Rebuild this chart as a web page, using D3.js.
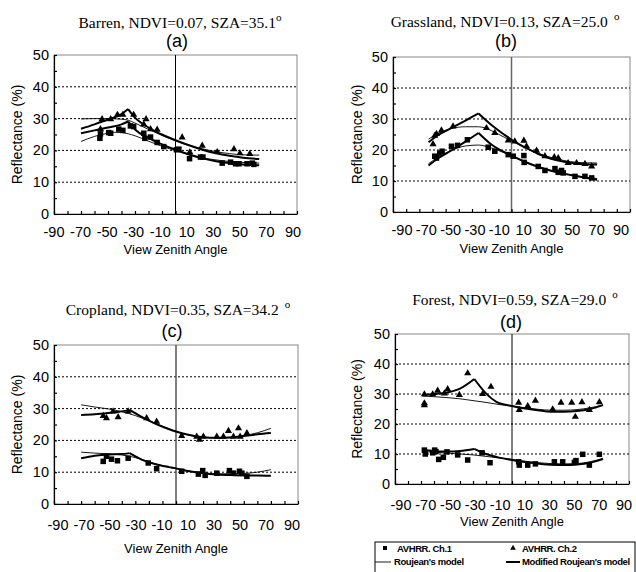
<!DOCTYPE html>
<html>
<head>
<meta charset="utf-8">
<script src="https://cdn.jsdelivr.net/npm/d3@7"></script>
<style>
  body { margin: 0; background: #fff; }
  svg { display: block; }
  .sans { font-family: Arial, "Liberation Sans", sans-serif; }
  .serif { font-family: "Times New Roman", "Liberation Serif", serif; }
</style>
</head>
<body>
<div id="chart"></div>
<script>
// x ticks (view zenith angle) and y ticks (reflectance %)
var xTickLabels = [-90, -70, -50, -30, -10, 10, 30, 50, 70, 90];
var yTickLabels = [0, 10, 20, 30, 40, 50];

// (a) Barren
var barrenCh1 = [[-55.6,25.2],[-56,23.8],[-49.5,25.6],[-48,25.4],[-42,26.7],[-39,26.3],[-33.4,27.7],[-31,27.5],[-23.5,25.4],[-22.7,23.8],[-18.5,24.2],[-13.6,22.5],[-8.7,21.2],[0.7,20.2],[2.5,20.4],[10.4,17.4],[18.5,17.9],[20.3,17.9],[34.6,16],[40.8,16.3],[44.5,15.8],[47,15.8],[53,15.8],[56.9,16],[58,15.6]];
var barrenCh2 = [[-55.6,26.7],[-54.4,29.8],[-48,29.8],[-43,31.2],[-39,31.2],[-31,31.2],[-23.5,28.2],[-21.8,29.8],[-18.5,26.7],[-13.6,26.5],[4.9,24.1],[10.6,19.4],[19.8,21.5],[30.9,19.5],[43.3,20.4],[47.7,19.1],[55,18.9]];
var barrenRouj1 = [[-70,22.8],[-60,24.4],[-50,25.4],[-45,25.7],[-40,25.6],[-30,24.6],[-20,22.9],[-10,21.3],[0,19.9],[10,18.7],[20,17.7],[30,17],[40,16.5],[50,16.2],[62,16]];
var barrenRouj2 = [[-70,29.9],[-60,30],[-50,30],[-40,29.8],[-35,29.5],[-30,28.6],[-20,26.6],[-10,24.7],[0,23],[10,21.6],[20,20.5],[30,19.6],[40,19],[50,18.6],[62,18.5]];
var barrenMod1 = [[-70,25.4],[-60,26.3],[-50,27.2],[-40,28.2],[-35.1,29.1],[-30,26.6],[-20,23.9],[-10,21.9],[0,20.2],[10,18.7],[20,17.5],[30,16.6],[40,16],[50,15.6],[62,15.3]];
var barrenMod2 = [[-70,26.8],[-60,28.2],[-50,29.7],[-40,31.4],[-35.1,33],[-30,30.3],[-20,27.2],[-10,25],[0,23.2],[10,21.6],[20,20.2],[30,19.1],[40,18.3],[50,17.7],[62,17.3]];

// (b) Grassland
var grassCh1 = [[-58.3,18],[-57,17.4],[-54.5,19],[-52.7,19.6],[-45.6,21.2],[-41,21.5],[-33.5,23.3],[-17.7,20.9],[-12.7,19.6],[-2.5,18.5],[1.3,18],[9.4,18.2],[9.6,16],[20.3,14.7],[25.4,13.4],[33,14],[35.5,12.8],[38,13.4],[39.3,12.6],[48.2,11.5],[55.8,11.5],[60.9,11]];
var grassCh2 = [[-59.6,21.9],[-58.3,24.6],[-57,25.2],[-53.2,26.3],[-44.4,27.6],[-19,27.1],[-12.7,25.5],[-2.5,23.1],[2.5,22.8],[9.4,23],[11.4,21.2],[19,19.8],[25.4,18],[32.5,17.7],[35.5,17.4],[43,15.8],[49.4,15.8],[55.8,15.5],[60.9,14.7]];
var grassRouj1 = [[-63,15.6],[-55,17.8],[-45,20],[-35,21.3],[-25,21.6],[-15,20.6],[-5,19],[0,18],[10,16.2],[20,14.7],[30,13.4],[40,12.4],[50,11.6],[65,10.8]];
var grassRouj2 = [[-63,23.5],[-55,25.5],[-45,27],[-35,27.5],[-25,27.5],[-15,26.2],[-5,24],[0,23],[10,20.8],[20,19],[30,17.6],[40,16.6],[50,16],[65,15.8]];
var grassMod1 = [[-63,15],[-55,17.5],[-45,20],[-35,22.7],[-25,25.5],[-15,21.7],[-5,19.2],[0,18.2],[10,16.2],[20,14.6],[30,13.3],[40,12.3],[50,11.5],[65,10.4]];
var grassMod2 = [[-63,22.5],[-55,25],[-45,27.2],[-35,29.5],[-25,31.8],[-15,28],[-5,24.8],[0,23.3],[10,20.9],[20,18.8],[30,17.2],[40,16.2],[50,15.6],[65,15.3]];

// (c) Cropland
var cropCh1 = [[-53.7,13.4],[-51.3,15],[-47.6,14.1],[-43.2,13.6],[-35.3,14.4],[-20.5,12.9],[-14.3,11.1],[4.2,10.3],[16.5,9.4],[19.7,10.5],[21.5,9],[30.1,9.7],[39.4,10.5],[42.4,9.7],[46.8,10.3],[48.6,9.7],[52.3,8.7]];
var cropCh2 = [[-53.7,27.7],[-51.3,27],[-46.4,29.1],[-42.7,27.3],[-35.3,29.1],[-21.7,27],[-14.3,25.9],[4.2,21.4],[15.3,21.2],[17.3,20.2],[20.2,21.2],[30.1,21.2],[35,21.2],[38.7,23],[42.4,21.2],[46.1,23.8],[47.3,21.2],[52.3,22.3]];
var cropRouj1 = [[-70,16.3],[-60,16],[-50,15.8],[-40,15.4],[-30,14.6],[-20,13.3],[-10,12],[0,11.1],[10,10.3],[20,9.8],[30,9.5],[40,9.5],[50,9.6],[60,10],[70,10.8]];
var cropRouj2 = [[-70,31.2],[-60,30.5],[-50,29.9],[-40,29],[-30,27.8],[-20,26.2],[-10,24.5],[0,22.8],[10,21.6],[20,21],[30,20.8],[40,21],[50,21.5],[60,22.4],[70,23.8]];
var cropMod1 = [[-70,14.4],[-60,15.2],[-50,15.6],[-40,15.7],[-34.2,16],[-25,13.9],[-15,12.5],[-5,11.6],[0,11.2],[10,10.3],[20,9.7],[30,9.3],[40,9.1],[50,9],[60,9],[70,8.9]];
var cropMod2 = [[-70,28],[-60,28.2],[-50,28.6],[-42,29],[-34.2,29.6],[-25,27.3],[-15,25.2],[-5,23.5],[0,22.8],[10,21.7],[20,21],[30,20.8],[40,20.9],[50,21.4],[60,21.9],[70,22.3]];

// (d) Forest
var forestCh1 = [[-67.4,11.3],[-66.7,10],[-61,10.4],[-59.5,11.3],[-58.5,10.8],[-56.4,8.2],[-52.8,8.9],[-50,10.7],[-41.8,9.7],[-34.1,8],[-23,10.4],[-16.9,7.1],[5.1,7.4],[5.6,6.3],[12.1,6.3],[18,6.7],[32.6,7.4],[39,7.4],[48,7.2],[49.2,7.8],[54.4,9.9],[59.5,6.3],[67.2,9.9]];
var forestCh2 = [[-67.4,26.9],[-67.4,26.3],[-67.4,29.9],[-61,29.9],[-57.2,31.1],[-52,30.2],[-49.5,31.6],[-40.5,29.7],[-34.1,36.9],[-22.6,30],[-16.2,32.4],[5.1,27.1],[5.6,24.7],[12.1,26],[18,27.8],[31.3,24.9],[37.7,27.1],[45.9,27.1],[48.7,22.4],[53.8,27.3],[59.5,24.7],[67.2,27.3]];
var forestRouj1 = [[-69,10.8],[-60,10.6],[-50,10.3],[-40,10],[-30,9.7],[-20,9.2],[-10,8.7],[0,8.2],[10,7.6],[20,7.1],[30,6.8],[40,6.7],[50,6.8],[60,7.4],[70,8.6]];
var forestRouj2 = [[-69,29.3],[-60,29.1],[-50,28.8],[-40,28.4],[-30,27.8],[-20,27.2],[-10,26.5],[0,26],[10,25.4],[20,24.9],[30,24.6],[40,24.6],[50,24.8],[60,25.4],[70,26.3]];
var forestMod1 = [[-69,11.3],[-60,11],[-50,10.8],[-40,11],[-29,11.7],[-20,10],[-10,8.8],[0,8],[10,7.3],[20,6.8],[30,6.4],[40,6.3],[50,6.5],[60,7.1],[70,8.3]];
var forestMod2 = [[-69,29.7],[-60,30],[-50,30.5],[-40,31.8],[-29,35],[-20,30.2],[-12,27.4],[0,26],[10,25.2],[20,24.6],[30,24.1],[40,24.1],[50,24.3],[60,25],[70,26.3]];

var width = 636, height = 572;
var svg = d3.select("#chart").append("svg")
  .attr("width", width)
  .attr("height", height);

// labX0 / labX1: centres of the first and last x tick labels (squeezed in b and d)
var panels = [
  { name: "Barren, NDVI=0.07, SZA=35.1", gap: 0, tag: "(a)", hot: -35.1,
    L: 54, R: 297, T: 55, B: 214, titleX: 180, titleY: 28, tagX: 177, tagY: 47,
    labY: 237, labX0: 54, labX1: 293, axTitleY: 254, yTitleX: 18,
    ch1: barrenCh1, ch2: barrenCh2, r1: barrenRouj1, r2: barrenRouj2, m1: barrenMod1, m2: barrenMod2, zeroColor: "#000" },
  { name: "Grassland, NDVI=0.13, SZA=25.0", gap: 6, tag: "(b)", hot: -25,
    L: 393, R: 630, T: 57, B: 212, titleX: 505, titleY: 27, tagX: 506, tagY: 47,
    labY: 235, labX0: 402, labX1: 621, axTitleY: 253, yTitleX: 358,
    ch1: grassCh1, ch2: grassCh2, r1: grassRouj1, r2: grassRouj2, m1: grassMod1, m2: grassMod2, zeroColor: "#666" },
  { name: "Cropland, NDVI=0.35, SZA=34.2", gap: 6, tag: "(c)", hot: -34.2,
    L: 54, R: 298, T: 345, B: 504, titleX: 178, titleY: 315, tagX: 172, tagY: 337,
    labY: 530, labX0: 58, labX1: 292, axTitleY: 553, yTitleX: 18,
    ch1: cropCh1, ch2: cropCh2, r1: cropRouj1, r2: cropRouj2, m1: cropMod1, m2: cropMod2, zeroColor: "#555" },
  { name: "Forest, NDVI=0.59, SZA=29.0", gap: 6, tag: "(d)", hot: -29,
    L: 395, R: 629, T: 334, B: 484, titleX: 515, titleY: 305, tagX: 511, tagY: 328,
    labY: 510, labX0: 401, labX1: 624, axTitleY: 526, yTitleX: 358,
    ch1: forestCh1, ch2: forestCh2, r1: forestRouj1, r2: forestRouj2, m1: forestMod1, m2: forestMod2, zeroColor: "#000" }
];

panels.forEach(drawPanel);

function drawPanel(p) {
  var x = d3.scaleLinear().domain([-90, 90]).range([p.L, p.R]);
  var y = d3.scaleLinear().domain([0, 50]).range([p.B, p.T]);
  var labX = d3.scaleLinear().domain([-90, 90]).range([p.labX0, p.labX1]);
  var g = svg.append("g");

  // titles
  var t = g.append("text").attr("class", "serif")
    .attr("x", p.titleX).attr("y", p.titleY)
    .attr("text-anchor", "middle").attr("font-size", 15.5);
  t.append("tspan").text(p.name);
  t.append("tspan").attr("dx", p.gap).attr("dy", -7).attr("font-size", 11).text("o");
  g.append("text").attr("class", "sans")
    .attr("x", p.tagX).attr("y", p.tagY)
    .attr("text-anchor", "middle").attr("font-size", 18).text(p.tag);

  // frame
  g.append("rect").attr("x", p.L).attr("y", p.T)
    .attr("width", p.R - p.L).attr("height", p.B - p.T)
    .attr("fill", "none").attr("stroke", "#888").attr("stroke-width", 1);

  // dotted grid
  g.selectAll(".grid").data([10, 20, 30, 40]).enter().append("line")
    .attr("x1", p.L).attr("x2", p.R)
    .attr("y1", function(d) { return y(d); }).attr("y2", function(d) { return y(d); })
    .attr("stroke", "#000").attr("stroke-width", 1).attr("stroke-dasharray", "2,2");

  // zero line
  g.append("line").attr("x1", x(0)).attr("x2", x(0)).attr("y1", p.T).attr("y2", p.B)
    .attr("stroke", p.zeroColor).attr("stroke-width", p.zeroColor == "#000" ? 1 : 1.5);

  // axes
  var xAxis = g.append("g").attr("transform", "translate(0," + p.B + ")")
    .call(d3.axisBottom(x).tickValues(d3.range(-90, 91, 10)).tickSizeInner(-3).tickSizeOuter(0).tickFormat(""));
  var yAxis = g.append("g").attr("transform", "translate(" + p.L + ",0)")
    .call(d3.axisLeft(y).tickValues(d3.range(0, 51, 5)).tickSizeInner(-3).tickSizeOuter(0).tickFormat(""));
  [xAxis, yAxis].forEach(function(a) {
    a.selectAll("path, line").attr("stroke", "#000").attr("stroke-width", 1.2);
  });

  g.selectAll(".xl").data(xTickLabels).enter().append("text").attr("class", "sans")
    .attr("x", function(d) { return labX(d); }).attr("y", p.labY)
    .attr("text-anchor", "middle").attr("font-size", 14.5).text(function(d) { return d; });
  g.selectAll(".yl").data(yTickLabels).enter().append("text").attr("class", "sans")
    .attr("x", p.L - 5).attr("y", function(d) { return y(d) + 5; })
    .attr("text-anchor", "end").attr("font-size", 14.5).text(function(d) { return d; });

  g.append("text").attr("class", "sans")
    .attr("x", (p.L + p.R) / 2).attr("y", p.axTitleY)
    .attr("text-anchor", "middle").attr("font-size", 13).text("View Zenith Angle");
  g.append("text").attr("class", "sans")
    .attr("transform", "translate(" + p.yTitleX + "," + ((p.T + p.B) / 2) + ") rotate(-90)")
    .attr("text-anchor", "middle").attr("dominant-baseline", "middle")
    .attr("font-size", 14).text("Reflectance (%)");

  var line = d3.line()
    .x(function(d) { return x(d[0]); })
    .y(function(d) { return y(d[1]); })
    .curve(d3.curveMonotoneX);

  // Roujean's model (thin)
  [p.r1, p.r2].forEach(function(s) {
    g.append("path").datum(s).attr("d", line)
      .attr("fill", "none").attr("stroke", "#000").attr("stroke-width", 0.9);
  });
  // modified model (thick), kinked at the hotspot
  [p.m1, p.m2].forEach(function(s) {
    var left = s.filter(function(d) { return d[0] <= p.hot; });
    var right = s.filter(function(d) { return d[0] >= p.hot; });
    [left, right].forEach(function(part) {
      g.append("path").datum(part).attr("d", line)
        .attr("fill", "none").attr("stroke", "#000").attr("stroke-width", 2)
        .attr("stroke-linejoin", "round");
    });
  });

  // observations
  g.selectAll(".sq").data(p.ch1).enter().append("rect")
    .attr("x", function(d) { return x(d[0]) - 2.75; })
    .attr("y", function(d) { return y(d[1]) - 2.75; })
    .attr("width", 5.5).attr("height", 5.5).attr("fill", "#000");
  var tri = d3.symbol().type(d3.symbolTriangle).size(22);
  g.selectAll(".tr").data(p.ch2).enter().append("path")
    .attr("d", tri)
    .attr("transform", function(d) { return "translate(" + x(d[0]) + "," + y(d[1]) + ")"; })
    .attr("fill", "#000");
}

// legend (box runs off the bottom edge, as in the scan)
var lg = svg.append("g");
lg.append("rect").attr("x", 375).attr("y", 542).attr("width", 260).attr("height", 40)
  .attr("fill", "#fff").attr("stroke", "#000").attr("stroke-width", 1);
lg.append("rect").attr("x", 383).attr("y", 546).attr("width", 4).attr("height", 4).attr("fill", "#000");
lg.append("path").attr("d", d3.symbol().type(d3.symbolTriangle).size(14))
  .attr("transform", "translate(513,548)").attr("fill", "#000");
lg.append("line").attr("x1", 375).attr("x2", 391).attr("y1", 562).attr("y2", 562)
  .attr("stroke", "#000").attr("stroke-width", 0.9);
lg.append("line").attr("x1", 506).attr("x2", 520).attr("y1", 562).attr("y2", 562)
  .attr("stroke", "#000").attr("stroke-width", 2);
var legendText = [
  { x: 397, y: 552, t: "AVHRR. Ch.1" },
  { x: 522, y: 552, t: "AVHRR. Ch.2" },
  { x: 394, y: 565, t: "Roujean's model" },
  { x: 522, y: 565, t: "Modified Roujean's model" }
];
lg.selectAll(".lt").data(legendText).enter().append("text").attr("class", "sans")
  .attr("x", function(d) { return d.x; }).attr("y", function(d) { return d.y; })
  .attr("font-size", 9.5).attr("font-weight", "bold").attr("font-stretch", "condensed")
  .attr("letter-spacing", -0.4).text(function(d) { return d.t; });
</script>
</body>
</html>
